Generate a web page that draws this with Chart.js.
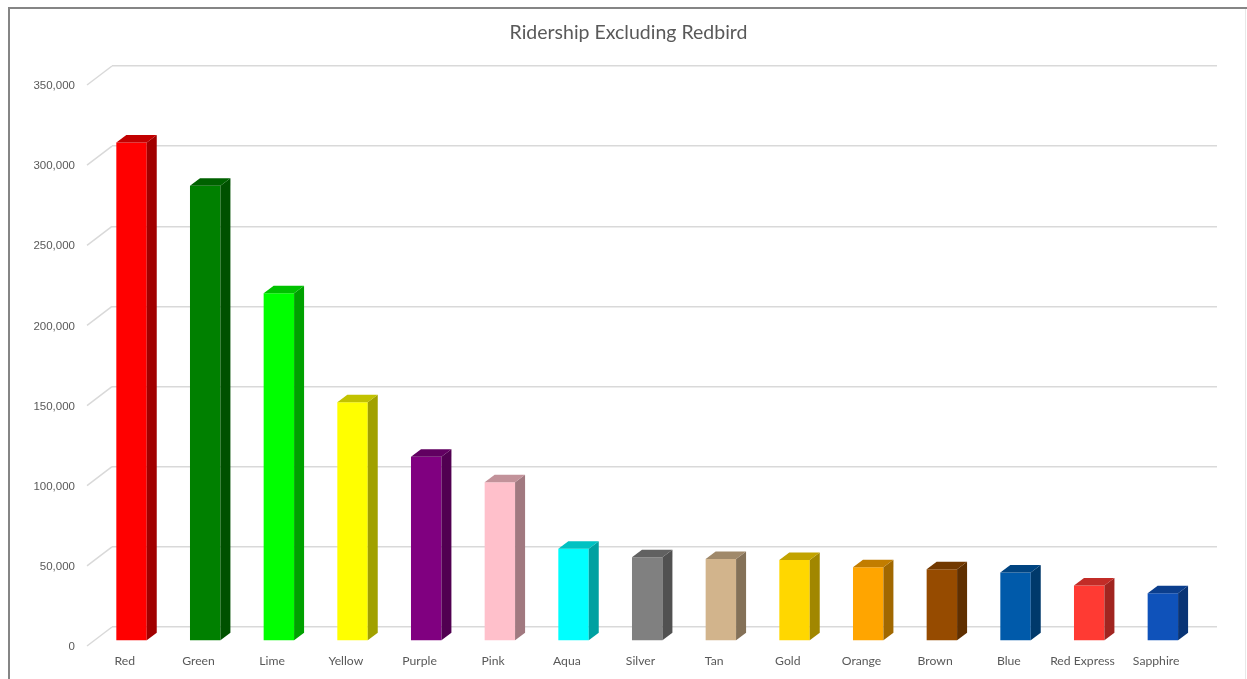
<!DOCTYPE html>
<html>
<head>
<meta charset="utf-8">
<script src="https://cdn.jsdelivr.net/npm/chart.js@4"></script>
<style>
html,body{margin:0;padding:0;background:#fff;overflow:hidden;}
canvas{display:block;}
</style>
</head>
<body>
<canvas id="c" width="1247" height="679"></canvas>
<script>
const titleText = "Ridership Excluding Redbird";
const categories = ["Red","Green","Lime","Yellow","Purple","Pink","Aqua","Silver","Tan","Gold","Orange","Brown","Blue","Red Express","Sapphire"];
const ridership = [311000, 284000, 217000, 149000, 115000, 99000, 57500, 52300, 51200, 50600, 46000, 44800, 42700, 34600, 29800];
const barColors = ["#FF0000","#008000","#00FF00","#FFFF00","#800080","#FFC0CB","#00FFFF","#808080","#D2B48C","#FFD700","#FFA500","#964B00","#005AAA","#FF3A33","#0F52BA"];
const yTickStep = 50000;
const yMax = 350000;

function shade(hex, f){
  const n = parseInt(hex.slice(1),16);
  const r = Math.round(((n>>16)&255)*f), g = Math.round(((n>>8)&255)*f), b = Math.round((n&255)*f);
  return `rgb(${r},${g},${b})`;
}

// 3D look: front face offset from back wall, plus depth faces
const FRONT_DX = -17.3, FRONT_DY = 14;
const DEPTH_DX = 10, DEPTH_DY = -7.5;
const WALL_DX = 25, WALL_DY = 19;

const bar3d = {
  id: 'bar3d',
  beforeDraw(chart){
    const ctx = chart.ctx;
    ctx.save();
    ctx.fillStyle = '#fff';
    ctx.fillRect(0,0,chart.width,chart.height);
    // frame
    ctx.fillStyle = '#858585';
    ctx.fillRect(8,7,chart.width-8,2);
    ctx.fillRect(8,7,2,chart.height-7);
    ctx.fillStyle = '#e8e8e8';
    ctx.fillRect(chart.width-2,9,1,chart.height-9);
    ctx.restore();
  },
  beforeDatasetsDraw(chart){
    const ctx = chart.ctx, y = chart.scales.y, area = chart.chartArea;
    ctx.save();
    ctx.strokeStyle = '#d9d9d9';
    ctx.lineWidth = 1.5;
    y.ticks.forEach(t => {
      const py = y.getPixelForValue(t.value);
      ctx.beginPath();
      ctx.moveTo(area.left - WALL_DX, py + WALL_DY);
      ctx.lineTo(area.left, py);
      ctx.stroke();
    });
    ctx.restore();
    ctx.save();
    ctx.translate(FRONT_DX, FRONT_DY);
  },
  afterDatasetsDraw(chart){
    const ctx = chart.ctx;
    ctx.restore();
    const meta = chart.getDatasetMeta(0);
    const colors = chart.data.datasets[0].backgroundColor;
    meta.data.forEach((el, i) => {
      const p = el.getProps(['x','y','base','width'], true);
      const x0 = p.x - p.width/2 + FRONT_DX, x1 = p.x + p.width/2 + FRONT_DX;
      const top = p.y + FRONT_DY, bot = p.base + FRONT_DY;
      ctx.save();
      // side face
      ctx.fillStyle = shade(colors[i], 0.63);
      ctx.beginPath();
      ctx.moveTo(x1, top);
      ctx.lineTo(x1 + DEPTH_DX, top + DEPTH_DY);
      ctx.lineTo(x1 + DEPTH_DX, bot + DEPTH_DY);
      ctx.lineTo(x1, bot);
      ctx.closePath();
      ctx.fill();
      // top face
      ctx.fillStyle = shade(colors[i], 0.76);
      ctx.beginPath();
      ctx.moveTo(x0, top);
      ctx.lineTo(x0 + DEPTH_DX, top + DEPTH_DY);
      ctx.lineTo(x1 + DEPTH_DX, top + DEPTH_DY);
      ctx.lineTo(x1, top);
      ctx.closePath();
      ctx.fill();
      ctx.restore();
    });
  }
};

new Chart(document.getElementById('c'), {
  type: 'bar',
  data: {
    labels: categories,
    datasets: [{
      data: ridership,
      backgroundColor: barColors,
      borderWidth: 0,
      barPercentage: 0.413,
      categoryPercentage: 1,
      clip: false
    }]
  },
  options: {
    responsive: false,
    animation: false,
    devicePixelRatio: 1,
    layout: { padding: { left: 10, right: 0, top: 0, bottom: 0 } },
    plugins: {
      legend: { display: false },
      tooltip: { enabled: false },
      title: {
        display: true, text: titleText, color: '#595959',
        font: { family: 'Lato', size: 19.5, weight: 'normal', lineHeight: 1.2 },
        padding: { top: 21, bottom: 21.6 }
      }
    },
    scales: {
      x: {
        grid: { display: false, drawTicks: false },
        border: { display: false },
        ticks: {
          color: '#595959', font: { family: 'Lato', size: 12.2 },
          labelOffset: -24, padding: 27, maxRotation: 0, autoSkip: false
        },
        afterFit(s){ s.height = 52; }
      },
      y: {
        min: 0, max: yMax,
        ticks: {
          stepSize: yTickStep,
          callback: v => v.toLocaleString('en-US'),
          color: '#595959', font: { family: 'Liberation Sans', size: 11.5 },
          padding: 37, labelOffset: 20
        },
        grid: { color: '#d9d9d9', lineWidth: 1.5, drawTicks: false },
        border: { display: false },
        afterFit(s){ s.width = 102; }
      },
      y2: {
        position: 'right',
        grid: { display: false, drawTicks: false },
        border: { display: false },
        ticks: { display: false },
        afterFit(s){ s.width = 30; }
      }
    }
  },
  plugins: [bar3d]
});
</script>
</body>
</html>
